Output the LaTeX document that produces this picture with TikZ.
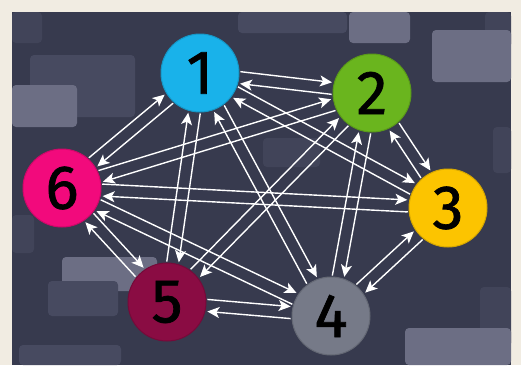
\documentclass[tikz,border=0pt]{standalone}
\usepackage{xcolor}
\usepackage{fontspec}
\newfontfamily\digitfont[FakeBold=1.2]{Fira Sans}
\usetikzlibrary{arrows.meta,calc}

\definecolor{paper}{HTML}{F1ECE2}
\definecolor{panel}{HTML}{373A4E}
\definecolor{bgdim}{HTML}{414459}
\definecolor{bgmid}{HTML}{474A60}
\definecolor{bglite}{HTML}{6C6E84}
\definecolor{cone}{HTML}{19B2EA}
\definecolor{ctwo}{HTML}{6AB51E}
\definecolor{cthree}{HTML}{FCC400}
\definecolor{cfour}{HTML}{767A88}
\definecolor{cfive}{HTML}{8A0C43}
\definecolor{csix}{HTML}{F20A7C}

\begin{document}
\begin{tikzpicture}[
  x=1pt, y=-1pt,
  tile/.style={rounded corners=4pt, draw=none},
  vertex/.style={circle, minimum size=78pt, inner sep=0pt, line width=1pt,
                 font=\digitfont\fontsize{62}{62}\selectfont, text=black},
  lane/.style={to path={($(\tikztostart)!6pt!90:(\tikztotarget)$) -- ($(\tikztotarget)!6pt!-90:(\tikztostart)$)}},
  arr/.style={-{Stealth[length=12pt,width=11pt,inset=3pt]}, draw=white, line width=1.4pt,
              lane, shorten >=41pt, shorten <=40pt}
]
\useasboundingbox (0,0) rectangle (521,365);
\fill[paper] (0,0) rectangle (521,365);
\fill[panel] (12,12) rectangle (511,365);
% background tiles
\fill[tile, bgdim]  (12,12) rectangle (42,43);
\fill[tile, bgmid]  (30,55) rectangle (135,117);
\fill[tile, bglite] (12,85) rectangle (77,127);
\fill[tile, bgmid]  (238,12) rectangle (347,33);
\fill[tile, bglite] (349,12) rectangle (410,43);
\fill[tile, bgdim]  (485,12) rectangle (511,48);
\fill[tile, bglite] (432,30) rectangle (511,82);
\fill[tile, bgdim]  (493,127) rectangle (511,173);
\fill[tile, bgdim]  (263,138) rectangle (320,167);
\fill[tile, bgdim]  (12,215) rectangle (34,253);
\fill[tile, bglite] (62,257) rectangle (157,291);
\fill[tile, bgmid]  (48,281) rectangle (118,316);
\fill[tile, bgmid]  (19,345) rectangle (121,365);
\fill[tile, bgdim]  (480,287) rectangle (511,347);
\fill[tile, bglite] (405,328) rectangle (511,365);

% vertices
\node[vertex, fill=cone,   draw=cone!85!black]   (n1) at (200,73)  {1};
\node[vertex, fill=ctwo,   draw=ctwo!85!black]   (n2) at (372,93)  {2};
\node[vertex, fill=cthree, draw=cthree!85!black] (n3) at (448,208) {3};
\node[vertex, fill=cfour,  draw=cfour!85!black]  (n4) at (331,316) {4};
\node[vertex, fill=cfive,  draw=cfive!85!black]  (n5) at (167,302) {5};
\node[vertex, fill=csix,   draw=csix!85!black]   (n6) at (62,188)  {6};

% connectors, both ways
\draw[arr] (n1) to (n2);
\draw[arr] (n2) to (n1);
\draw[arr] (n1) to (n3);
\draw[arr] (n3) to (n1);
\draw[arr] (n1) to (n4);
\draw[arr] (n4) to (n1);
\draw[arr] (n1) to (n5);
\draw[arr] (n5) to (n1);
\draw[arr] (n1) to (n6);
\draw[arr] (n6) to (n1);
\draw[arr] (n2) to (n3);
\draw[arr] (n3) to (n2);
\draw[arr] (n2) to (n4);
\draw[arr] (n4) to (n2);
\draw[arr] (n2) to (n5);
\draw[arr] (n5) to (n2);
\draw[arr] (n2) to (n6);
\draw[arr] (n6) to (n2);
\draw[arr] (n3) to (n4);
\draw[arr] (n4) to (n3);
\draw[arr] (n3) to (n6);
\draw[arr] (n6) to (n3);
\draw[arr] (n4) to (n5);
\draw[arr] (n5) to (n4);
\draw[arr] (n4) to (n6);
\draw[arr] (n6) to (n4);
\draw[arr] (n5) to (n6);
\draw[arr] (n6) to (n5);
\end{tikzpicture}
\end{document}
